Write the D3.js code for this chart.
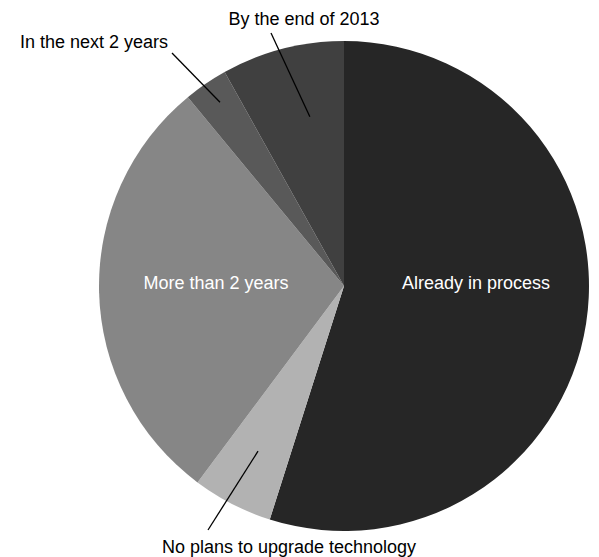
<!DOCTYPE html>
<html><head><meta charset="utf-8">
<script src="https://cdn.jsdelivr.net/npm/d3@7"></script>
<style>body{margin:0;background:#fff}svg{display:block}</style>
</head><body>
<svg id="c" width="599" height="557"></svg>
<script>
const categories = ["Already in process","No plans to upgrade technology","More than 2 years","In the next 2 years","By the end of 2013"];
const values = [54.9, 5.3, 28.8, 2.9, 8.1];
const colors = ["#262626","#b2b2b2","#868686","#595959","#404040"];

// label layout: inside (white text) or outside with leader line
const labelLayout = [
  {inside:true, x:476, y:289, anchor:"middle"},
  {inside:false, tx:289, ty:553, anchor:"middle", a:207.5, r:0.76, lx:208, ly:530},
  {inside:true, x:216, y:289, anchor:"middle"},
  {inside:false, tx:20, ty:48, anchor:"start", a:326, r:0.905, lx:172, ly:53},
  {inside:false, tx:304, ty:25, anchor:"middle", a:348.6, r:0.705, lx:271, ly:33}
];

const cx = 344, cy = 286, R = 245;
const FS = 18;
const svg = d3.select("#c");
const g = svg.append("g").attr("transform", `translate(${cx},${cy})`);
const pie = d3.pie().sort(null).value(d => d)(values);
const arc = d3.arc().innerRadius(0).outerRadius(R);
g.selectAll("path").data(pie).join("path")
  .attr("d", arc).attr("fill", (d,i) => colors[i]);

labelLayout.forEach((L, i) => {
  if (L.inside) {
    svg.append("text").attr("x", L.x).attr("y", L.y).attr("text-anchor", L.anchor)
      .attr("font-family", "Liberation Sans, Arial, sans-serif").attr("font-size", FS)
      .attr("fill", "#fff").text(categories[i]);
  } else {
    const ang = L.a * Math.PI / 180;
    const px = cx + Math.sin(ang) * L.r * R, py = cy - Math.cos(ang) * L.r * R;
    svg.append("line").attr("x1", L.lx).attr("y1", L.ly).attr("x2", px).attr("y2", py)
      .attr("stroke", "#000").attr("stroke-width", 1.3);
    svg.append("text").attr("x", L.tx).attr("y", L.ty).attr("text-anchor", L.anchor)
      .attr("font-family", "Liberation Sans, Arial, sans-serif").attr("font-size", FS)
      .attr("fill", "#000").text(categories[i]);
  }
});
</script>
</body></html>
